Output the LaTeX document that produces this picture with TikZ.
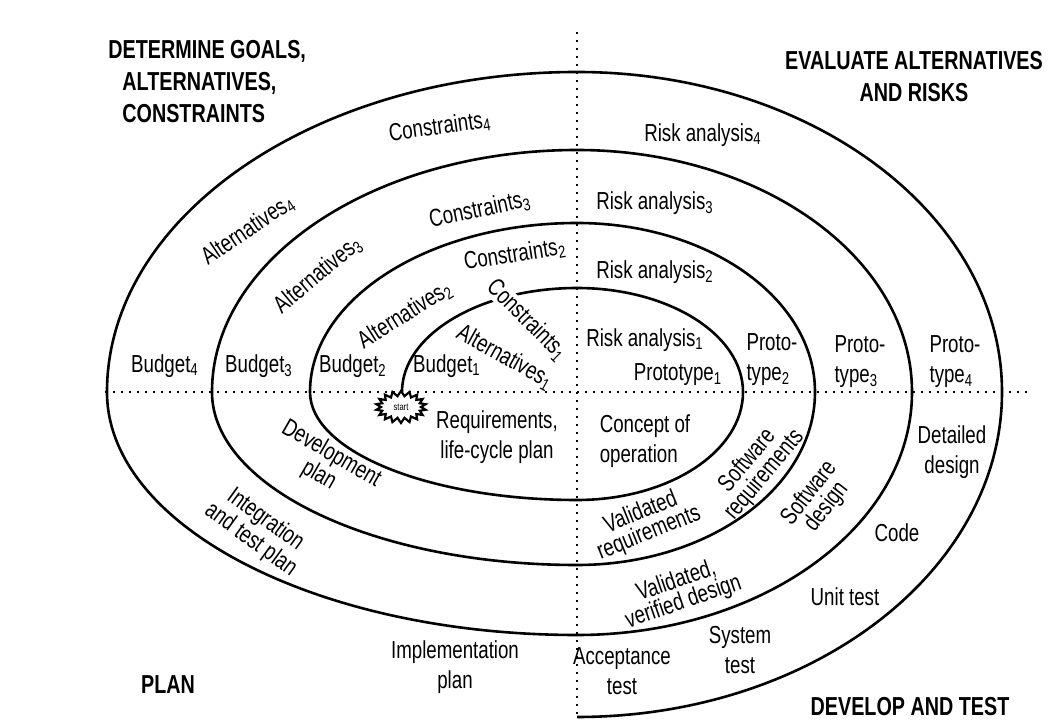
\documentclass[tikz,border=0pt]{standalone}
\usepackage{fontspec}
\setmainfont{Liberation Sans}[FakeStretch=0.76]
\usetikzlibrary{shapes.symbols}

\begin{document}
\begin{tikzpicture}[x=0.5pt,y=0.5pt,
    spiral/.style={line width=1.3pt, line join=round},
    axis/.style={line width=1pt, dash pattern=on 1.2pt off 2.8pt},
    lbl/.style={font=\fontsize{12.3}{15}\selectfont, inner sep=1pt, align=center},
    tight/.style={font=\fontsize{12.3}{11}\selectfont},
    title/.style={font=\fontsize{13}{16}\selectfont\bfseries, inner sep=0pt}]
    \useasboundingbox (-577,-329) rectangle (487,392);

    % Axes
    \coordinate (west) at (-472,0);
    \coordinate (east) at (455,0);
    \coordinate (top) at (0,360);
    \coordinate (bottom) at (0,-326);
    \draw[axis] (west) -- (east);
    \draw[axis] (top) -- (bottom);

    % Spiral
    \coordinate (s0) at (-175,0);
    \draw[spiral] (s0) arc (180:90:175 and 104) arc (90:0:166 and 104)
        arc (0:-90:166 and 108) arc (270:180:267 and 108)
        arc (180:90:267 and 169) arc (90:0:238 and 169)
        arc (0:-90:238 and 173) arc (270:180:365 and 173)
        arc (180:90:365 and 242) arc (90:0:335 and 242)
        arc (0:-90:335 and 243) arc (270:180:470 and 243)
        arc (180:90:470 and 320) arc (90:0:425 and 320)
        arc (0:-90:425 and 325);

    % Start
    \node[starburst, random starburst=0, starburst points=18, starburst point height=2.5pt,
        draw, line width=1.1pt, fill=white, minimum width=25pt, minimum height=16pt, inner sep=0pt]
        (start) at (-176,-15) {\fontsize{5}{5}\selectfont start};

    % Quadrant titles
    \node[title, anchor=north west, align=left] (goals) at (-469,352)
        {DETERMINE GOALS,\\\hspace*{7pt}ALTERNATIVES,\\\hspace*{7pt}CONSTRAINTS};
    \node[title, align=center] (evaluate) at (337,315) {EVALUATE ALTERNATIVES\\AND RISKS};
    \node[title] (plan) at (-409,-293) {PLAN};
    \node[title] (develop) at (333,-315) {DEVELOP AND TEST};

    % Determine goals quadrant
    \node[lbl, rotate=8] (constr4) at (-137,265) {Constraints\textsubscript{4}};
    \node[lbl, rotate=12] (constr3) at (-97,182) {Constraints\textsubscript{3}};
    \node[lbl, rotate=9] (constr2) at (-62,137) {Constraints\textsubscript{2}};
    \node[lbl, rotate=-45, fill=white, inner sep=0pt] (constr1) at (-50,72) {Constraints\textsubscript{1}};
    \node[lbl, rotate=34] (alt4) at (-329,162) {Alternatives\textsubscript{4}};
    \node[lbl, rotate=40] (alt3) at (-259,117) {Alternatives\textsubscript{3}};
    \node[lbl, rotate=32] (alt2) at (-172,77) {Alternatives\textsubscript{2}};
    \node[lbl, rotate=-29] (alt1) at (-72,35) {Alternatives\textsubscript{1}};
    \node[lbl] (budget4) at (-412,26) {Budget\textsubscript{4}};
    \node[lbl] (budget3) at (-318,26) {Budget\textsubscript{3}};
    \node[lbl] (budget2) at (-224,26) {Budget\textsubscript{2}};
    \node[lbl] (budget1) at (-130,26) {Budget\textsubscript{1}};

    % Evaluate quadrant
    \node[lbl] (risk4) at (126,257) {Risk analysis\textsubscript{4}};
    \node[lbl] (risk3) at (78,189) {Risk analysis\textsubscript{3}};
    \node[lbl] (risk2) at (78,120) {Risk analysis\textsubscript{2}};
    \node[lbl] (risk1) at (68,52) {Risk analysis\textsubscript{1}};
    \node[lbl] (proto1) at (101,17) {Prototype\textsubscript{1}};
    \node[lbl, align=left] (proto2) at (195,32) {Proto-\\type\textsubscript{2}};
    \node[lbl, align=left] (proto3) at (283,30) {Proto-\\type\textsubscript{3}};
    \node[lbl, align=left] (proto4) at (378,30) {Proto-\\type\textsubscript{4}};

    % Plan quadrant
    \node[lbl] (req) at (-80,-45) {Requirements,\\life-cycle plan};
    \node[lbl, tight, rotate=-30] (devplan) at (-252,-73) {Development\\plan};
    \node[lbl, tight, rotate=-36] (integ) at (-319,-138) {Integration\\and test plan};
    \node[lbl] (impl) at (-122,-275) {Implementation\\plan};

    % Develop quadrant
    \node[lbl, align=left] (concept) at (68,-49) {Concept of\\operation};
    \node[lbl, tight, rotate=50] (swreq) at (179,-76) {Software\\requirements};
    \node[lbl, tight, rotate=22] (valreq) at (68,-131) {Validated\\requirements};
    \node[lbl, tight, rotate=52] (swdes) at (241,-108) {Software\\design};
    \node[lbl, tight, rotate=19] (valdes) at (103,-200) {Validated,\\verified design};
    \node[lbl] (detail) at (375,-60) {Detailed\\design};
    \node[lbl] (code) at (320,-141) {Code};
    \node[lbl] (unit) at (268,-205) {Unit test};
    \node[lbl] (system) at (163,-258) {System\\test};
    \node[lbl] (accept) at (45,-279) {Acceptance\\test};
\end{tikzpicture}
\end{document}
